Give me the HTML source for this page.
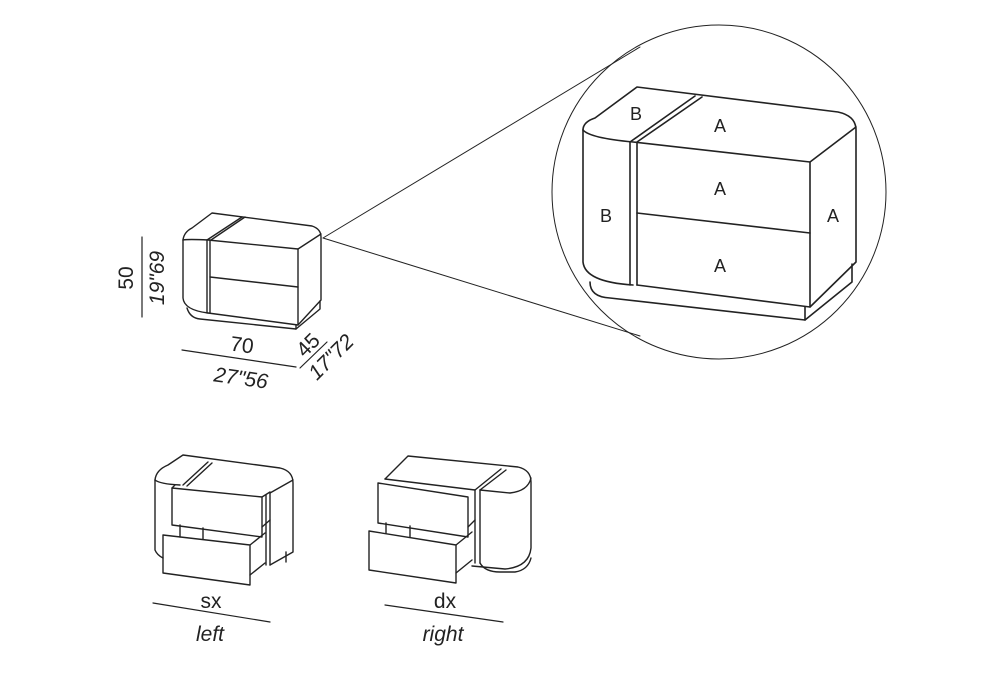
<!DOCTYPE html>
<html><head><meta charset="utf-8"><style>
html,body{margin:0;padding:0;background:#fff;}
svg{display:block;}
text{font-family:"Liberation Sans",sans-serif;fill:#222;}
</style></head><body>
<svg width="1000" height="700" viewBox="0 0 1000 700" xmlns="http://www.w3.org/2000/svg">
<g fill="none" stroke="#222" stroke-linejoin="round" stroke-linecap="round">
<circle cx="719" cy="192" r="167" stroke-width="1"/>
<line x1="323" y1="238" x2="640" y2="47" stroke-width="1"/>
<line x1="323" y1="238" x2="640" y2="336" stroke-width="1"/>

<g stroke-width="1.6">
<path d="M583,130 Q583,122 595,118 L637,87 L838,112 Q856,116 856,130 L856,262 L810,307 L637,285"/>
<path d="M583,130 Q590,138 633,142 L810,162 L856,127"/>
<path d="M583,130 L583,262 Q585,282 633,285"/>
<line x1="810" y1="162" x2="810" y2="307"/>
<line x1="630" y1="142" x2="630" y2="285"/>
<line x1="637" y1="143" x2="637" y2="285"/>
<line x1="637" y1="213" x2="810" y2="233"/>
<line x1="630" y1="142" x2="695" y2="96"/>
<line x1="637" y1="142" x2="702" y2="97"/>
<path d="M590,282 Q590,297 610,298 L805,320 L805,307"/>
<path d="M805,320 L852,282 L852,264"/>
</g>
<g stroke-width="1.4">
<path d="M183,240 Q184,232 192,228 L212,213 L312,226 Q321,229 321,237 L321,300 L298,325 L208,313"/>
<path d="M183,240 Q188,239 208,240 L298,249 L321,234"/>
<path d="M183,240 L183,298 Q184,310 208,313"/>
<line x1="298" y1="249" x2="298" y2="325"/>
<line x1="207" y1="240" x2="207" y2="313"/>
<line x1="210" y1="240" x2="210" y2="313"/>
<line x1="210" y1="277" x2="298" y2="287"/>
<line x1="207" y1="240" x2="242" y2="217"/>
<line x1="211" y1="240" x2="245" y2="217"/>
<path d="M187,308 Q190,318 200,319 L296,329 L296,325"/>
<path d="M296,329 L320,309 L320,301"/>
</g>
<g stroke-width="1.2">
<line x1="142" y1="237" x2="142" y2="317"/>
<line x1="182" y1="350" x2="296" y2="367"/>
<line x1="300" y1="368" x2="327" y2="342"/>
<line x1="153" y1="603" x2="270" y2="622"/>
<line x1="385" y1="605" x2="503" y2="622"/>
</g>

<!-- sx -->
<g stroke-width="1.4">
<path d="M155,480 Q156,470 168,465 L183,455 L280,468 Q293,471 293,483 L293,552 L270,565"/>
<path d="M155,480 L155,550 Q157,555 163,558"/>
<path d="M155,480 Q160,484 180,485"/>
<line x1="183" y1="485" x2="208" y2="462"/>
<line x1="187" y1="486" x2="212" y2="463"/>
<line x1="270" y1="493" x2="293" y2="480"/>
<line x1="270" y1="493" x2="270" y2="565"/>
<line x1="266" y1="495" x2="266" y2="565"/>
<path d="M172,488 L262,497 L262,537 L172,525 Z"/>
<line x1="172" y1="488" x2="175" y2="485"/>
<line x1="262" y1="497" x2="270" y2="492"/>
<line x1="262" y1="527" x2="270" y2="520"/>
<path d="M163,535 L250,545 L250,585 L163,573 Z"/>
<line x1="250" y1="545" x2="265" y2="533"/>
<line x1="250" y1="575" x2="265" y2="563"/>
<line x1="180" y1="525" x2="180" y2="537"/>
<line x1="203" y1="528" x2="203" y2="539"/>
<line x1="286" y1="552" x2="286" y2="562"/>
</g>
<!-- dx -->
<g stroke-width="1.4">
<path d="M385,479 L408,456 L518,467 Q531,470 531,482 L531,548 Q529,567 505,569 L472,566"/>
<path d="M385,479 L475,490"/>
<path d="M480,490 L510,493 Q528,491 531,478"/>
<line x1="475" y1="490" x2="501" y2="469"/>
<line x1="480" y1="490" x2="506" y2="470"/>
<line x1="475" y1="490" x2="475" y2="563"/>
<line x1="480" y1="490" x2="480" y2="563"/>
<path d="M378,483 L468,497 L468,537 L378,523 Z"/>
<line x1="468" y1="527" x2="475" y2="520"/>
<path d="M369,531 L456,545 L456,583 L369,570 Z"/>
<line x1="456" y1="545" x2="472" y2="532"/>
<line x1="456" y1="573" x2="472" y2="560"/>
<line x1="386" y1="523" x2="386" y2="533"/>
<line x1="410" y1="526" x2="410" y2="537"/>
<path d="M480,563 Q485,572 500,572 L515,572 Q528,570 531,558"/>
</g>
</g>

<g font-size="18">
<text x="636" y="120" text-anchor="middle">B</text>
<text x="720" y="132" text-anchor="middle">A</text>
<text x="720" y="195" text-anchor="middle">A</text>
<text x="606" y="222" text-anchor="middle">B</text>
<text x="833" y="222" text-anchor="middle">A</text>
<text x="720" y="272" text-anchor="middle">A</text>
</g>
<g font-size="21">
<text transform="translate(133,278) rotate(-90)" text-anchor="middle">50</text>
<text transform="translate(241,352) rotate(8)" text-anchor="middle">70</text>
<text transform="translate(313,350) rotate(-45)" text-anchor="middle">45</text>
<text x="211" y="608" text-anchor="middle">sx</text>
<text x="445" y="608" text-anchor="middle">dx</text>
</g>
<g font-size="21" font-style="italic">
<text transform="translate(164,278) rotate(-90)" text-anchor="middle">19"69</text>
<text transform="translate(240,385) rotate(8)" text-anchor="middle">27"56</text>
<text transform="translate(336,362) rotate(-45)" text-anchor="middle">17"72</text>
<text x="210" y="641" text-anchor="middle">left</text>
<text x="443" y="641" text-anchor="middle">right</text>
</g>
</svg>
</body></html>
